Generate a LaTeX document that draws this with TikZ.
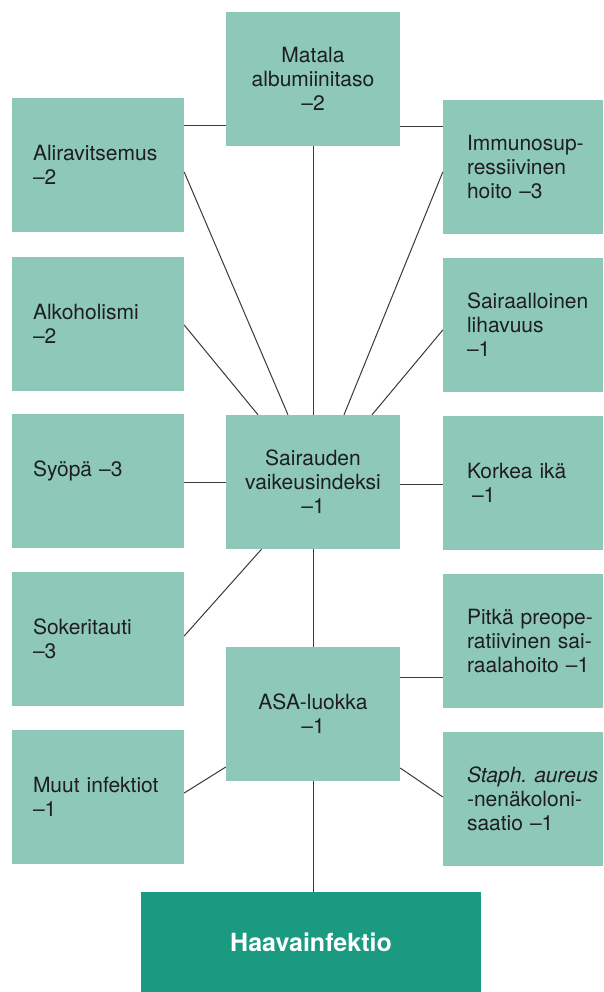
\documentclass[tikz,border=0pt]{standalone}
\usepackage{fontspec}
\setmainfont{TeX Gyre Heros}
\definecolor{lightteal}{HTML}{8DC8B8}
\definecolor{darkteal}{HTML}{1B9A82}
\definecolor{linegray}{HTML}{3A3A3A}
\definecolor{txt}{HTML}{1E1E1E}
\hyphenpenalty=10000
\hbadness=10000
\hfuzz=50pt
\begin{document}
\begin{tikzpicture}[x=1pt,y=1pt,
  base/.style={rectangle, fill=lightteal, inner sep=0pt, minimum height=134pt, text=txt, font=\fontsize{21}{24}\selectfont},
  lbox/.style={base, minimum width=172pt, text width=130pt, align=left},
  rbox/.style={base, minimum width=182pt, text width=134pt, align=left},
  cbox/.style={base, minimum width=174pt, text width=170pt, align=center},
  finalbox/.style={rectangle, fill=darkteal, inner sep=0pt, minimum width=340pt, minimum height=100pt, text=white, font=\fontsize{25}{30}\selectfont\bfseries},
  conn/.style={draw=linegray, line width=1pt}]
\useasboundingbox (0,0) rectangle (603,-992);
\clip (0,0) rectangle (603,-992);
\fill[white] (0,0) rectangle (603,-992);

% left column
\node[lbox] (ali) at (98,-165) {Aliravitsemus\\–2};
\node[lbox] (alk) at (98,-323.5) {Alkoholismi\\–2};
\node[lbox] (syo) at (98,-480.5) {Syöpä –3\\\mbox{}};
\node[lbox] (sok) at (98,-639) {Sokeritauti\\–3};
\node[lbox] (muu) at (98,-796.5) {Muut infektiot\\–1};

% right column
\node[rbox] (imm) at (534,-167) {Immunosup-\\ressiivinen\\hoito –3};
\node[rbox] (lih) at (534,-325) {Sairaalloinen\\lihavuus\\–1};
\node[rbox] (kor) at (534,-483) {Korkea ikä\\\hspace*{5pt}–1};
\node[rbox] (pit) at (534,-641) {\mbox{Pitkä preope-}\\\mbox{ratiivinen sai-}\\\mbox{raalahoito –1}};
\node[rbox] (sta) at (534,-799) {\mbox{\textit{Staph.\ aureus}}\\-nenäkoloni-\\saatio –1};

% centre column
\node[cbox] (mat) at (313,-79) {Matala\\albumiinitaso\\–2};
\node[cbox] (sai) at (313,-482) {Sairauden\\vaikeusindeksi\\–1};
\node[cbox] (asa) at (313,-714) {ASA-luokka\\–1};
\node[finalbox] (haa) at (311,-942) {Haavainfektio};

% connectors
\draw[conn] ([yshift=39pt]ali.east) -- ([yshift=39pt]ali.east -| mat.west);
\draw[conn] ([yshift=-48pt]mat.east) -- ([yshift=-48pt]mat.east -| imm.west);
\draw[conn] (mat.south) -- (sai.north);
\draw[conn] ([yshift=-7pt]ali.east) -- ([xshift=-25pt]sai.north);
\draw[conn] ([yshift=-1.5pt]alk.east) -- ([xshift=-55pt]sai.north);
\draw[conn] ([yshift=-5pt]imm.west) -- ([xshift=31pt]sai.north);
\draw[conn] ([yshift=-5pt]lih.west) -- ([xshift=59pt]sai.north);
\draw[conn] (sai.west -| syo.east) -- (sai.west);
\draw[conn] ([yshift=-2pt]sai.east) -- ([yshift=-2pt]sai.east -| kor.west);
\draw[conn] (sai.south) -- (asa.north);
\draw[conn] ([yshift=3pt]sok.east) -- ([xshift=-51.5pt]sai.south);
\draw[conn] ([yshift=37pt]asa.east) -- ([yshift=37pt]asa.east -| pit.west);
\draw[conn] ([yshift=3.5pt]muu.east) -- ([yshift=-53pt]asa.west);
\draw[conn] ([yshift=-54pt]asa.east) -- ([yshift=2pt]sta.west);
\draw[conn] (asa.south) -- (asa.south |- haa.north);
\end{tikzpicture}
\end{document}
